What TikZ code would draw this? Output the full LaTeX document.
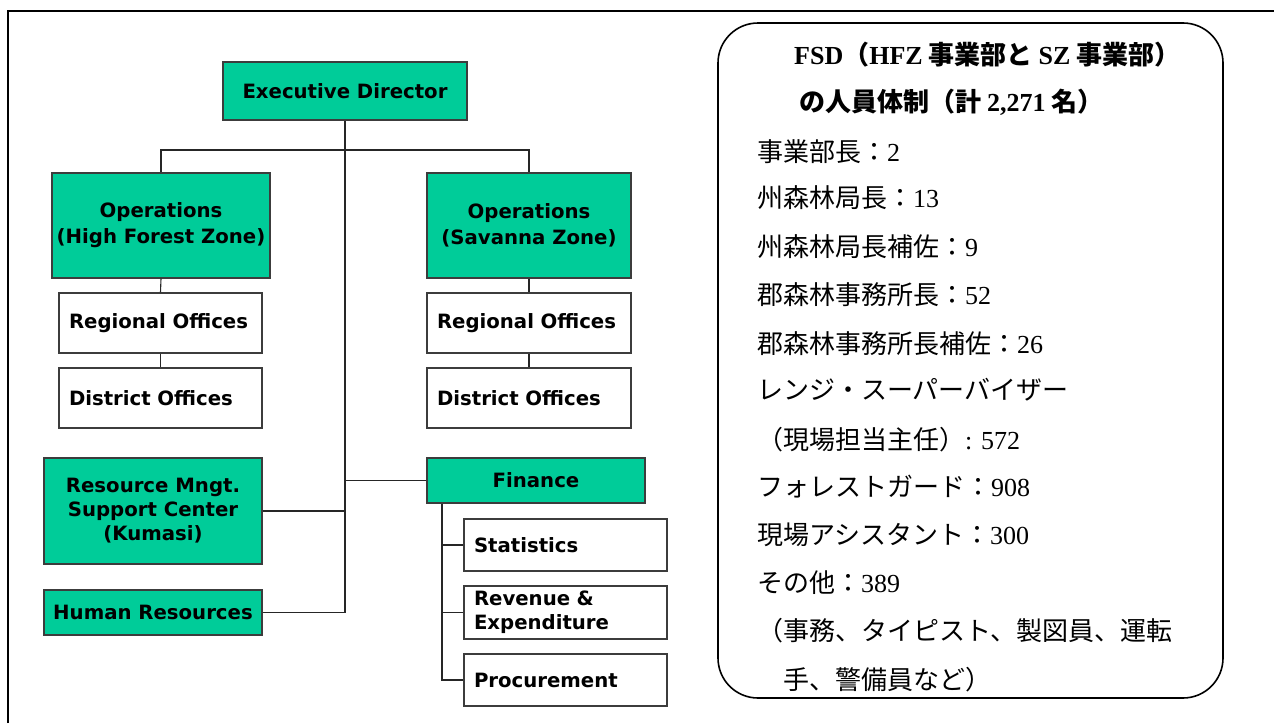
\documentclass[tikz,border=0pt]{standalone}
\usepackage{fontspec}
\newfontfamily\orgfont{DejaVu Sans}
\newfontfamily\jp{Noto Sans CJK JP}
\newfontfamily\tm{Liberation Serif}
\definecolor{orggreen}{RGB}{0,204,153}
\definecolor{boxline}{RGB}{60,60,60}
\begin{document}
\begin{tikzpicture}[x=1pt,y=-1pt,
  box/.style={draw=boxline, line width=1.3pt, font=\orgfont\bfseries\fontsize{19.7}{24}\selectfont, inner sep=0pt},
  gbox/.style={box, fill=orggreen, align=center},
  opsbox/.style={gbox, font=\orgfont\bfseries\fontsize{19.7}{26}\selectfont},
  wbox/.style={box, fill=white, align=left, inner xsep=10pt},
  conn/.style={draw=black!85, line width=1.1pt},
  jl/.style={anchor=base west, inner sep=0pt, font=\jp\fontsize{26}{30}\selectfont},
  jt/.style={jl, font=\jp\bfseries\fontsize{26}{30}\selectfont},
]
\useasboundingbox (0,0) rectangle (1274,723);
% outer frame (only top and left visible)
\draw[line width=1.6pt] (8,723) -- (8,11) -- (1274,11);

% org chart boxes
\node[gbox, minimum width=244pt, minimum height=58pt] (exec) at (345,91) {Executive Director};
\node[opsbox, minimum width=218pt, minimum height=105pt] (opsH) at (161,225.5) {Operations\\(High Forest Zone)};
\node[opsbox, minimum width=204pt, minimum height=105pt] (opsS) at (529,225.5) {Operations\\(Savanna Zone)};
\node[wbox, text width=183pt, minimum height=60pt] (regH) at (160.5,323) {Regional Offices};
\node[wbox, text width=183pt, minimum height=60pt] (disH) at (160.5,398) {District Offices};
\node[wbox, text width=184pt, minimum height=60pt] (regS) at (529,323) {Regional Offices};
\node[wbox, text width=184pt, minimum height=60pt] (disS) at (529,398) {District Offices};
\node[gbox, minimum width=218pt, minimum height=106pt] (res) at (153,511) {Resource Mngt.\\Support Center\\(Kumasi)};
\node[gbox, minimum width=218pt, minimum height=45pt] (hr) at (153,612.5) {Human Resources};
\node[gbox, minimum width=218pt, minimum height=45pt] (fin) at (536,480.5) {Finance};
\node[wbox, text width=183pt, minimum height=52pt] (stat) at (565.5,545) {Statistics};
\node[wbox, text width=183pt, minimum height=53pt] (rev) at (565.5,612.5) {Revenue \&\\Expenditure};
\node[wbox, text width=183pt, minimum height=52pt] (proc) at (565.5,680) {Procurement};

% connectors
\coordinate (bus) at (345,150);
\coordinate (fb) at (442,0);
\draw[conn] (exec.south) -- (exec.south |- hr.east);
\draw[conn] (opsH.north) |- (bus) -| (opsS.north);
\draw[conn] (opsH.south) -- (regH.north);
\draw[conn] (regH.south) -- (disH.north);
\draw[conn] (opsS.south) -- (regS.north);
\draw[conn] (regS.south) -- (disS.north);
\draw[conn] (res.east) -- (res.east -| exec.south);
\draw[conn] (hr.east) -- (hr.east -| exec.south);
\draw[conn] (fin.west) -- (fin.west -| exec.south);
\draw[conn] (fin.south -| fb) |- (proc.west);
\draw[conn] (fb |- stat.west) -- (stat.west);
\draw[conn] (fb |- rev.west) -- (rev.west);

% staffing box
\node[draw=black, line width=1.6pt, rounded corners=40pt, minimum width=505pt, minimum height=675pt, inner sep=0pt] (fsd) at (970.5,360.5) {};
\node[jt] (t1) at (794,64) {{\tm FSD}（{\tm HFZ} 事業部と {\tm SZ} 事業部）};
\node[jt] (t2) at (799,111) {の人員体制（計 {\tm 2,271} 名）};
\node[jl] (l1) at (757,161) {事業部長：{\tm 2}};
\node[jl] (l2) at (757,207) {州森林局長：{\tm 13}};
\node[jl] (l3) at (757,256) {州森林局長補佐：{\tm 9}};
\node[jl] (l4) at (757,304) {郡森林事務所長：{\tm 52}};
\node[jl] (l5) at (757,353) {郡森林事務所長補佐：{\tm 26}};
\node[jl] (l6) at (757,399) {レンジ・スーパーバイザー};
\node[jl] (l7) at (757,449) {（現場担当主任）{\tm : 572}};
\node[jl] (l8) at (757,496) {フォレストガード：{\tm 908}};
\node[jl] (l9) at (757,544) {現場アシスタント：{\tm 300}};
\node[jl] (l10) at (757,592) {その他：{\tm 389}};
\node[jl] (l11) at (757,640) {（事務、タイピスト、製図員、運転};
\node[jl] (l12) at (783,689) {手、警備員など）};
\end{tikzpicture}
\end{document}
